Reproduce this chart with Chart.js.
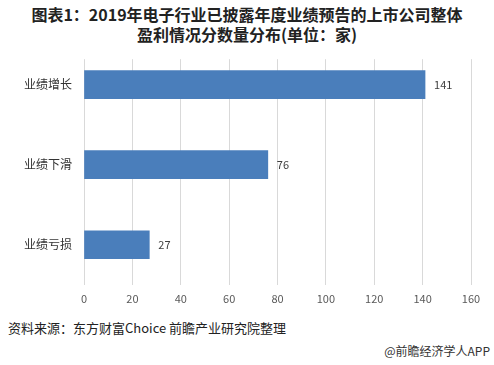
<!DOCTYPE html>
<html>
<head>
<meta charset="utf-8">
<script src="https://cdn.jsdelivr.net/npm/chart.js@4/dist/chart.umd.min.js"></script>
<style>
  body { margin: 0; background: #fff; width: 494px; height: 365px; position: relative; overflow: hidden;
         font-family: "Noto Sans CJK SC", "Noto Sans", sans-serif; }
  #title { position: absolute; top: 4px; left: 0; width: 494px; text-align: center;
           font-size: 16px; font-weight: bold; line-height: 20px; color: #222; }
  #wrap { position: absolute; left: 0; top: 40px; width: 494px; height: 269px; }
  #src { position: absolute; left: 8px; top: 318px; font-size: 13px; color: #222; }
  #app { position: absolute; right: 4px; top: 342px; font-size: 12px; color: #333; }
</style>
</head>
<body>
<div id="title">图表1：2019年电子行业已披露年度业绩预告的上市公司整体<br>盈利情况分数量分布(单位：家)</div>
<div id="wrap"><canvas id="chart"></canvas></div>
<div id="src">资料来源：东方财富Choice 前瞻产业研究院整理</div>
<div id="app">@前瞻经济学人APP</div>
<script>
// categories and values
var categories = ['业绩增长', '业绩下滑', '业绩亏损'];
var companyCounts = [141, 76, 27];
var xTicks = [0, 20, 40, 60, 80, 100, 120, 140, 160];

// bars sit on a numeric index axis so they can hang a little high, like the Excel original
var barPoints = companyCounts.map(function (v, i) { return { x: v, y: i }; });

// value labels at the end of each bar
var barLabels = {
    id: 'barLabels',
    afterDatasetsDraw: function (chart) {
        var ctx = chart.ctx;
        var meta = chart.getDatasetMeta(0);
        ctx.save();
        ctx.font = '11px "Noto Sans CJK SC", sans-serif';
        ctx.fillStyle = '#404040';
        ctx.textBaseline = 'middle';
        meta.data.forEach(function (bar, i) {
            ctx.fillText(String(companyCounts[i]), bar.x + 9, bar.y);
        });
        ctx.restore();
    }
};

var ctx = document.getElementById('chart').getContext('2d');
var chartBars = new Chart(ctx, {
    type: 'bar',
    data: {
        datasets: [{
            data: barPoints,
            backgroundColor: '#4a7ebb',
            barThickness: 28
        }]
    },
    options: {
        indexAxis: 'y',
        responsive: true,
        maintainAspectRatio: false,
        animation: false,
        layout: { padding: { top: 2, right: 23, left: 0, bottom: 0 } },
        plugins: { legend: { display: false }, tooltip: { enabled: false } },
        scales: {
            x: {
                type: 'linear',
                min: 0, max: 160,
                afterBuildTicks: function (s) { s.ticks = xTicks.map(function (v) { return { value: v }; }); },
                afterFit: function (s) { s.height = 24; },
                grid: { color: '#d9d9d9', drawTicks: false },
                border: { display: false },
                ticks: { padding: 7, color: '#595959', font: { size: 11, family: '"Noto Sans CJK SC", sans-serif' } }
            },
            y: {
                type: 'linear',
                reverse: true,
                bounds: 'data',
                offset: false,
                min: -0.317, max: 2.503,
                afterBuildTicks: function (s) { s.ticks = categories.map(function (c, i) { return { value: i }; }); },
                afterFit: function (s) { s.width = 84; },
                grid: { display: false, drawTicks: false },
                border: { display: false },
                ticks: {
                    padding: 12, color: '#333',
                    font: { size: 12, family: '"Noto Sans CJK SC", sans-serif' },
                    callback: function (v) { return categories[v]; }
                }
            }
        }
    },
    plugins: [barLabels]
});
</script>
</body>
</html>
